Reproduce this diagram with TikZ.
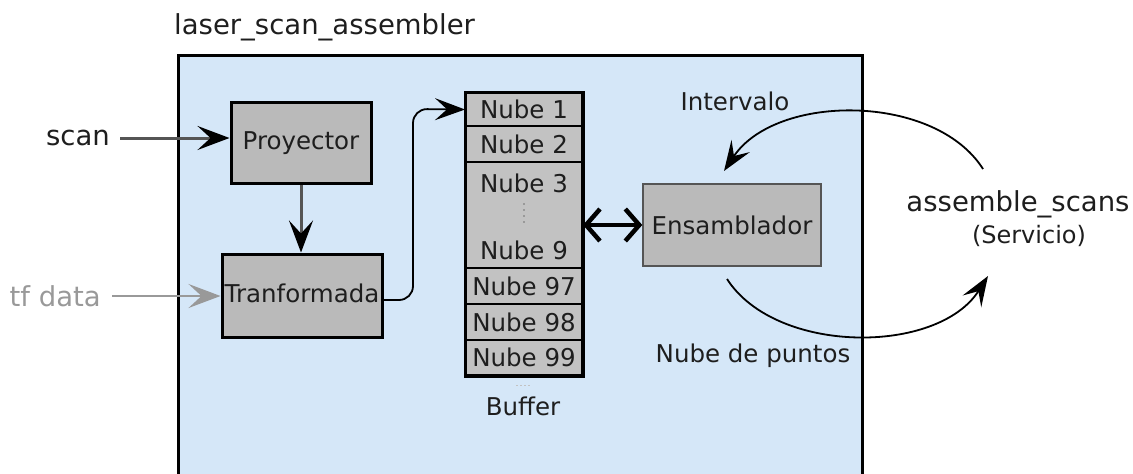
\documentclass[tikz,border=0pt]{standalone}
\usepackage{fontspec}
\setmainfont{DejaVu Sans}
\usetikzlibrary{arrows.meta}
\definecolor{panel}{HTML}{D5E7F8}
\definecolor{boxgrey}{HTML}{BABABA}
\definecolor{cellgrey}{HTML}{C2C2C2}
\definecolor{ink}{HTML}{1E1E1E}
\definecolor{wire}{HTML}{555555}
\definecolor{tfgrey}{HTML}{999999}
\newcommand{\fsz}[1]{\fontsize{#1}{#1}\selectfont}
\tikzset{
  x=1pt, y=-1pt,
  head/.style={-{Stealth[length=32pt,width=24pt,inset=13pt,color=black]}},
  thinhead/.style={-{Stealth[length=30pt,width=22pt,inset=12pt,color=black]}},
  block/.style={draw=black, line width=3pt, fill=boxgrey, inner sep=0pt,
    font=\fsz{24.5}, text=ink},
  cell/.style={draw=black, line width=2pt, fill=cellgrey, inner sep=0pt,
    minimum width=116pt, font=\fsz{24.5}, text=ink},
  lbl/.style={inner sep=0pt, font=\fsz{24.5}, text=ink},
  biglbl/.style={inner sep=0pt, font=\fsz{27.5}, text=ink},
}
\begin{document}
\begin{tikzpicture}
\useasboundingbox (0,0) rectangle (1133,474);

% enclosing node area
\draw[line width=3pt, fill=panel] (178,55) rectangle (862,500);
\node[biglbl, anchor=west] (title) at (174,27) {laser\_scan\_assembler};

% processing blocks
\node[block, minimum width=140pt, minimum height=81pt] (proy) at (301,143) {Proyector};
\node[block, minimum width=160pt, minimum height=83pt] (tranf) at (302,295.5) {\raisebox{5pt}{Tranformada}};

% inputs
\node[biglbl, anchor=east] (scan) at (110,138) {scan};
\node[biglbl, anchor=east, text=tfgrey] (tf) at (101,296) {tf data};
\draw[head, line width=3pt, draw=wire] (scan.east) ++(10,0) coordinate (scanfrom) -- (proy.west |- scanfrom);
\draw[line width=2.4pt, draw=tfgrey, -{Stealth[length=32pt,width=24pt,inset=13pt,color=tfgrey]}] (tf.east) ++(11,0) coordinate (tffrom) -- (tranf.west |- tffrom);
\draw[head, line width=3pt, draw=wire] (proy.south) -- (tranf.north -| proy.south);

% buffer of clouds
\node[cell, minimum height=33pt]  (n1)  at (524,109.5) {Nube 1};
\node[cell, minimum height=36pt]  (n2)  at (524,144)   {Nube 2};
\node[cell, minimum height=106pt] (n3)  at (524,215)   {};
\node[cell, minimum height=36pt]  (n97) at (524,286)   {Nube 97};
\node[cell, minimum height=36pt]  (n98) at (524,322)   {Nube 98};
\node[cell, minimum height=35pt]  (n99) at (524,357.5) {Nube 99};
\draw[line width=3pt] (n1.north west) rectangle (n99.south east);
\node[lbl] (n3a) at (524,183) {Nube 3};
\node[lbl] (n3b) at (524,250) {Nube 9};
\draw[tfgrey, line width=2pt, dash pattern=on 2pt off 4pt] (524,203) -- (524,226);
\node[lbl] (buf) at (523,406) {Buffer};
\draw[tfgrey!60, line width=1pt, dash pattern=on 1.5pt off 2.5pt] (516,385) -- (530,385);

% transformed scan into the buffer
\coordinate (tout) at (382,300);
\coordinate (bend) at (413,109);
\draw[thinhead, line width=1.8pt, rounded corners=14pt] (tout) -| (bend) -- (n1.west);

% assembler
\node[draw=wire, line width=1.4pt, fill=boxgrey, inner sep=0pt,
  minimum width=178pt, minimum height=82pt, font=\fsz{24.5}, text=ink]
  (ens) at (732,225) {Ensamblador};
\draw[line width=4.5pt, {Straight Barb[length=14pt,width=32pt]}-{Straight Barb[length=14pt,width=32pt]}]
  (n3.east |- ens.west) -- (ens.west);

% service call
\node[biglbl] (srv) at (1018,204) {assemble\_scans};
\node[lbl, font=\fsz{24}] (srvk) at (1029,236) {(Servicio)};
\node[lbl] (intv) at (735,101) {Intervalo};
\node[lbl] (pts) at (753,356) {Nube de puntos};

\coordinate (reqfrom) at (983,169);
\coordinate (reqto) at (724,171);
\coordinate (resfrom) at (727,279);
\coordinate (resto) at (988,276);
\draw[thinhead, line width=1.8pt] (reqfrom) .. controls (935,93) and (776,93) .. (reqto);
\draw[thinhead, line width=1.8pt] (resfrom) .. controls (776,355) and (938,355) .. (resto);
\end{tikzpicture}
\end{document}
